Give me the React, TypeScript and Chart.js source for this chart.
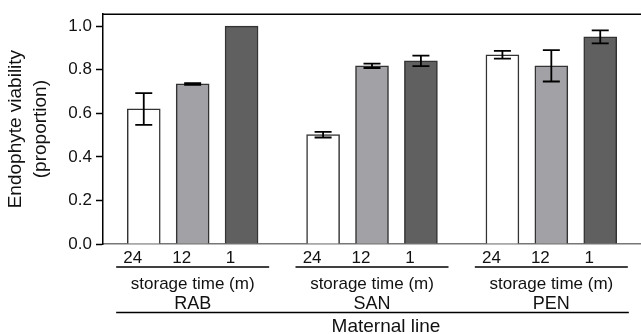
import React, { useEffect, useRef } from "react";
import { Chart, registerables } from "chart.js";

Chart.register(...registerables);

// ---------- data ----------
const groups = ["RAB", "SAN", "PEN"];
const storageTimes = ["24", "12", "1"];
const rabMeans = [0.62, 0.735, 1.0];
const rabErrors = [0.073, 0.004, 0];
const sanMeans = [0.502, 0.818, 0.841];
const sanErrors = [0.013, 0.01, 0.024];
const penMeans = [0.869, 0.818, 0.951];
const penErrors = [0.018, 0.072, 0.03];
const yTicks = [0, 0.2, 0.4, 0.6, 0.8, 1.0];
const yTitle = ["Endophyte viability", "(proportion)"];
const groupAxisTitle = "storage time (m)";
const xTitle = "Maternal line";
const barColors = ["#ffffff", "#a2a1a6", "#606060"];

const groupMeans = [rabMeans, sanMeans, penMeans];
const groupErrors = [rabErrors, sanErrors, penErrors];

const FONT = "'Liberation Sans', Arial, Helvetica, sans-serif";

// slot layout on the category axis (spacing only)
const LEAD = 2;
const STEP = 3;
const GAP = 5;
const TRAIL = 2;
const GROUP_SPAN = (storageTimes.length - 1) * STEP + GAP;
const TOTAL = LEAD + (groups.length - 1) * GROUP_SPAN + (storageTimes.length - 1) * STEP + 1 + TRAIL;

const labels: string[] = new Array(TOTAL).fill("");
const values: (number | null)[] = new Array(TOTAL).fill(null);
const errors: (number | null)[] = new Array(TOTAL).fill(null);
const colors: string[] = new Array(TOTAL).fill("#ffffff");
const groupSlots: number[][] = groups.map(() => []);
groups.forEach((g, gi) => {
  storageTimes.forEach((t, ti) => {
    const idx = LEAD + gi * GROUP_SPAN + ti * STEP;
    labels[idx] = t;
    values[idx] = groupMeans[gi][ti];
    errors[idx] = groupErrors[gi][ti];
    colors[idx] = barColors[ti];
    groupSlots[gi].push(idx);
  });
});

const errorBarPlugin = {
  id: "errorBars",
  afterDatasetsDraw(chart: any) {
    const ctx = chart.ctx;
    const meta = chart.getDatasetMeta(0);
    const yScale = chart.scales.y;
    ctx.save();
    ctx.strokeStyle = "#000";
    ctx.lineWidth = 1.8;
    values.forEach((v, i) => {
      const e = errors[i];
      if (v == null || e == null || e === 0) return;
      const el = meta.data[i];
      const x = el.x;
      const yHi = yScale.getPixelForValue(v + e);
      const yLo = yScale.getPixelForValue(v - e);
      const cap = 8.5;
      ctx.beginPath();
      ctx.moveTo(x, yHi);
      ctx.lineTo(x, yLo);
      ctx.moveTo(x - cap, yHi);
      ctx.lineTo(x + cap, yHi);
      ctx.moveTo(x - cap, yLo);
      ctx.lineTo(x + cap, yLo);
      ctx.stroke();
    });
    ctx.restore();
  },
};

const annotationPlugin = {
  id: "groupAnnotations",
  afterDraw(chart: any) {
    const ctx = chart.ctx;
    const area = chart.chartArea;
    const meta = chart.getDatasetMeta(0);
    ctx.save();
    // top border of plot frame
    ctx.strokeStyle = "#000";
    ctx.lineWidth = 1.5;
    ctx.beginPath();
    ctx.moveTo(area.left, area.top);
    ctx.lineTo(area.right, area.top);
    ctx.stroke();

    const halfLine = 76.5;
    let firstStart = 0;
    let lastEnd = 0;
    ctx.fillStyle = "#111";
    ctx.textAlign = "center";
    ctx.textBaseline = "alphabetic";
    groups.forEach((g, gi) => {
      const xs = groupSlots[gi].map((i) => meta.data[i].x);
      const cx = xs.reduce((a, b) => a + b, 0) / xs.length;
      const x0 = cx - halfLine;
      const x1 = cx + halfLine;
      if (gi === 0) firstStart = x0;
      lastEnd = x1;
      ctx.beginPath();
      ctx.moveTo(x0, area.bottom + 23);
      ctx.lineTo(x1, area.bottom + 23);
      ctx.stroke();
      ctx.font = `17px ${FONT}`;
      ctx.fillText(groupAxisTitle, cx, area.bottom + 44.5);
      ctx.font = `18px ${FONT}`;
      ctx.fillText(g, cx, area.bottom + 65);
    });
    ctx.beginPath();
    ctx.moveTo(firstStart, area.bottom + 68.5);
    ctx.lineTo(lastEnd + 1, area.bottom + 68.5);
    ctx.stroke();
    ctx.font = `19px ${FONT}`;
    ctx.fillText(xTitle, (firstStart + lastEnd) / 2 + 14, area.bottom + 88);
    ctx.restore();
  },
};

export default function App() {
  const ref = useRef<HTMLCanvasElement | null>(null);
  useEffect(() => {
    if (!ref.current) return;
    const chart = new Chart(ref.current, {
      type: "bar",
      data: {
        labels,
        datasets: [
          {
            data: values as any,
            backgroundColor: colors,
            borderColor: "#333333",
            borderWidth: 1.5,
            barThickness: 33,
          },
        ],
      },
      options: {
        animation: false,
        responsive: false,
        layout: { padding: { top: 12, left: 0, right: 0, bottom: 0 } },
        plugins: { legend: { display: false }, tooltip: { enabled: false } },
        scales: {
          x: {
            type: "category",
            offset: true,
            afterFit: (s: any) => {
              s.height = 90;
            },
            grid: { display: false, drawTicks: false },
            border: { display: true, color: "#777777", width: 1.5 },
            ticks: {
              autoSkip: false,
              maxRotation: 0,
              minRotation: 0,
              padding: 4,
              labelOffset: -11,
              color: "#111",
              font: { size: 17, family: FONT },
            },
          },
          y: {
            type: "linear",
            min: 0,
            max: 1.055,
            afterFit: (s: any) => {
              s.width = 103;
            },
            afterBuildTicks: (s: any) => {
              s.ticks = yTicks.map((v) => ({ value: v }));
            },
            grid: {
              drawOnChartArea: false,
              drawTicks: true,
              tickLength: 7,
              tickColor: "#000",
              tickWidth: 1.5,
            },
            border: { display: true, color: "#000", width: 1.5 },
            ticks: {
              padding: 4,
              color: "#111",
              font: { size: 17, family: FONT },
              callback: (v: any) => Number(v).toFixed(1),
            },
            title: {
              display: true,
              text: yTitle,
              color: "#111",
              font: { size: 19, family: FONT, lineHeight: "25px" as any },
              padding: { top: 3.5, bottom: 0 },
            },
          },
        },
      },
      plugins: [errorBarPlugin, annotationPlugin],
    });
    return () => chart.destroy();
  }, []);
  return (
    <div style={{ position: "absolute", left: 0, top: 0, width: 641, height: 334, background: "#fff" }}>
      <canvas ref={ref} width={641} height={334} style={{ display: "block" }} />
    </div>
  );
}
